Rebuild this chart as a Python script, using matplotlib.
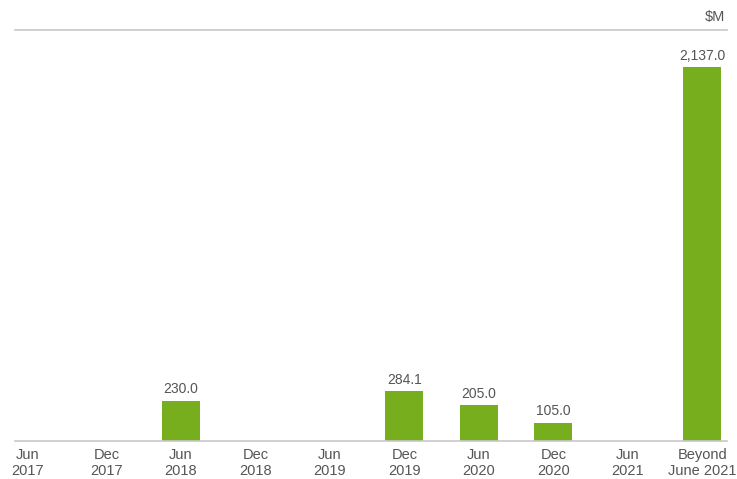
import matplotlib

matplotlib.use("Agg")
import matplotlib.pyplot as plt
import matplotlib.transforms as mtransforms

periods = ["Jun\n2017", "Dec\n2017", "Jun\n2018", "Dec\n2018", "Jun\n2019",
           "Dec\n2019", "Jun\n2020", "Dec\n2020", "Jun\n2021", "Beyond\nJune 2021"]
maturities = [0, 0, 230.0, 0, 0, 284.1, 205.0, 105.0, 0, 2137.0]
unit_label = "$M"

GREEN = "#76ae1e"
GREY_TEXT = "#555555"
GREY_LINE = "#c8c8c8"

plt.rcParams["font.family"] = ["Liberation Sans", "DejaVu Sans"]

fig = plt.figure(figsize=(7.37, 4.79), dpi=100)
ax = fig.add_axes([15 / 737, 38 / 479, 712 / 737, 411 / 479])

x = list(range(len(periods)))
ax.bar(x, maturities, width=0.51, color=GREEN, zorder=2)
for xi, v in zip(x, maturities):
    if v > 0:
        ax.text(xi, v + 25, f"{v:,.1f}", ha="center", va="bottom",
                fontsize=10, color=GREY_TEXT)

ax.set_xlim(-0.228, 9.329)
ax.set_ylim(0, 2349)
ax.set_xticks(x)
ax.set_xticklabels(periods, fontsize=10.5, color=GREY_TEXT, linespacing=1.2)
ax.tick_params(axis="x", length=0, pad=5)
ax.set_yticks([])

# nudge the first label left so it lines up with the axis start
first = ax.get_xticklabels()[0]
first.set_transform(first.get_transform()
                    + mtransforms.ScaledTranslation(-4 / 100, 0, fig.dpi_scale_trans))

for side in ("left", "right"):
    ax.spines[side].set_visible(False)
for side in ("top", "bottom"):
    ax.spines[side].set_color(GREY_LINE)
    ax.spines[side].set_linewidth(1.2)

fig.text(725 / 737, 1 - 17 / 479, unit_label, ha="right", va="center",
         fontsize=10.5, color=GREY_TEXT)

fig.savefig("out.png", dpi=100)
